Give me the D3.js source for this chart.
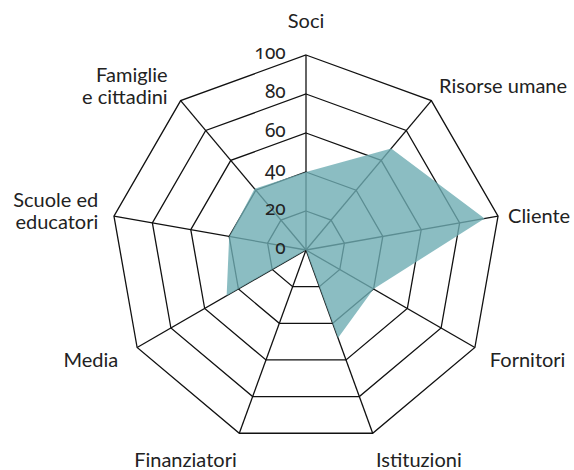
<!DOCTYPE html>
<html><head><meta charset="utf-8">
<script src="https://cdn.jsdelivr.net/npm/d3@7"></script>
<style>
html,body{margin:0;padding:0;background:#fff;}
text{font-family:Lato,"Open Sans",sans-serif;font-size:20px;fill:#222;}
text.tick{font-family:"Noto Sans","Open Sans",Lato,sans-serif;font-size:19px;font-feature-settings:"onum" 1;font-variant-numeric:oldstyle-nums;}
</style></head>
<body><svg id="chart" width="574" height="470"></svg>
<script>
// Data
const categories = ["Soci","Risorse umane","Cliente","Fornitori","Istituzioni","Finanziatori","Media","Scuole ed educatori","Famiglie e cittadini"];
const labelLines = [["Soci"],["Risorse umane"],["Cliente"],["Fornitori"],["Istituzioni"],["Finanziatori"],["Media"],["Scuole ed","educatori"],["Famiglie","e cittadini"]];
const values = [40, 68, 93, 40, 48, 0, 47, 40, 41];
const tickValues = [0, 20, 40, 60, 80, 100];

// Layout (style only)
const cx = 306, cy = 250, R = 195;
const labelLayout = [
  {anchor:"middle", dx:0, dy:-26.7},
  {anchor:"start", dx:7.7, dy:-7.3},
  {anchor:"start", dx:10, dy:6.7},
  {anchor:"start", dx:15, dy:19.2},
  {anchor:"start", dx:3.3, dy:33.5},
  {anchor:"end", dx:-2.6, dy:33.5},
  {anchor:"end", dx:-19, dy:19.2},
  {anchor:"end", dx:-15.7, dy:-9.3},
  {anchor:"end", dx:-13, dy:-18.9}
];
const lineH = 22;

const svg = d3.select("#chart");
const g = svg.append("g").attr("transform", `translate(${cx},${cy})`);
const r = d3.scaleLinear().domain([0,100]).range([0,R]);
const n = categories.length;
const ang = d3.scaleLinear().domain([0,n]).range([0,2*Math.PI]);
const pt = (i, v) => [r(v)*Math.sin(ang(i)), -r(v)*Math.cos(ang(i))];

// grid rings
const rings = tickValues.filter(t => t > 0);
const line = d3.line();
g.selectAll("path.ring").data(rings).join("path")
  .attr("class","ring")
  .attr("d", t => line(d3.range(n).map(i => pt(i,t))) + "Z")
  .attr("fill","none").attr("stroke","#111").attr("stroke-width",1.3).attr("stroke-linejoin","miter");
// axes
g.selectAll("line.axis").data(categories).join("line")
  .attr("class","axis")
  .attr("x1",0).attr("y1",0)
  .attr("x2",(d,i)=>pt(i,100)[0]).attr("y2",(d,i)=>pt(i,100)[1])
  .attr("stroke","#111").attr("stroke-width",1.3);

// data polygon
g.append("path")
  .attr("d", line(values.map((v,i)=>pt(i,v))) + "Z")
  .attr("fill","#6eadb3").attr("fill-opacity",0.8).attr("stroke","none");

// tick labels
g.selectAll("text.tick").data(tickValues).join("text")
  .attr("class","tick")
  .attr("x",-20.3).attr("y",t => -r(t) + 3.5)
  .attr("text-anchor","end")
  .text(t => t);

// category labels
g.selectAll("text.cat").data(categories).join("text")
  .attr("class","cat")
  .attr("text-anchor",(d,i)=>labelLayout[i].anchor)
  .each(function(d,i){
    const p = pt(i,100), L = labelLayout[i], lines = labelLines[i];
    d3.select(this).selectAll("tspan").data(lines).join("tspan")
      .attr("x", p[0]+L.dx)
      .attr("y", (s,k) => p[1]+L.dy + k*lineH)
      .text(s => s);
  });
</script></body></html>
